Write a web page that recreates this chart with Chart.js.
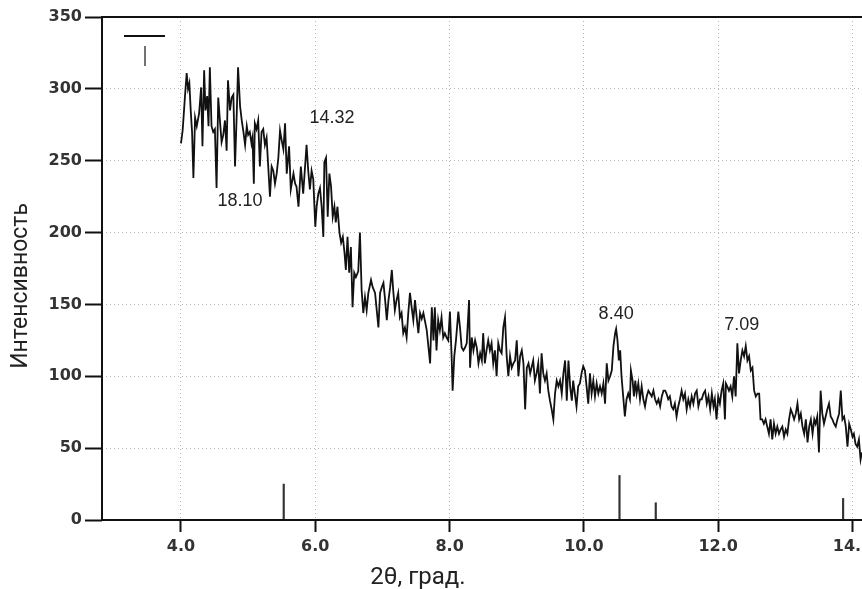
<!DOCTYPE html>
<html lang="ru">
  <head>
    <meta charset="UTF-8" />
    <script src="https://cdn.jsdelivr.net/npm/chart.js@4.4.0/dist/chart.umd.min.js"></script>
    <title>XRD</title>
    <style>
      html, body { margin: 0; padding: 0; background: #fff; overflow: hidden; }
      .wrap { position: relative; width: 900px; height: 589px; }
    </style>
  </head>
  <body>
    <div class="wrap"><canvas id="xrd"></canvas></div>
    <script>
      // scan, 2theta (deg) and intensity
      const twoTheta = [
        4.00, 4.025, 4.06, 4.085, 4.105, 4.125, 4.145, 4.165, 4.185, 4.21, 4.235, 4.27, 4.30, 4.32, 4.345, 4.365, 4.39, 4.41, 4.43, 4.455,
        4.48, 4.505, 4.53, 4.555, 4.58, 4.605, 4.63, 4.655, 4.68, 4.70, 4.73, 4.755, 4.78, 4.805, 4.83, 4.85, 4.88, 4.905, 4.93, 4.955,
        4.98, 5.00, 5.025, 5.05, 5.065, 5.085, 5.10, 5.125, 5.15, 5.175, 5.20, 5.225, 5.25, 5.275,
        5.325, 5.35, 5.375, 5.40, 5.425, 5.45, 5.475, 5.50, 5.525, 5.55, 5.575, 5.61, 5.635, 5.675, 5.70, 5.72,
        5.75, 5.785, 5.82, 5.87, 5.895, 5.92, 5.945, 5.97, 6.00, 6.02, 6.045, 6.07, 6.095, 6.12, 6.135, 6.16, 6.185, 6.21, 6.235, 6.26,
        6.285, 6.305, 6.33, 6.36, 6.385, 6.41, 6.435, 6.455, 6.48, 6.505, 6.53, 6.555, 6.58, 6.605, 6.64, 6.665, 6.69, 6.715, 6.74, 6.765,
        6.79, 6.83, 6.855, 6.89, 6.915, 6.94, 6.965, 6.99, 7.015, 7.04, 7.065, 7.09, 7.115, 7.14, 7.16, 7.185, 7.21, 7.235, 7.26, 7.285,
        7.31, 7.335, 7.36, 7.385, 7.41, 7.435, 7.46, 7.485, 7.51, 7.535,
        7.56, 7.585, 7.61, 7.66, 7.71, 7.735, 7.76, 7.78, 7.805, 7.83, 7.855, 7.88, 7.905, 7.93, 7.955, 7.98, 8.005, 8.03, 8.045, 8.07,
        8.095, 8.13, 8.155, 8.18, 8.205, 8.23, 8.255, 8.29, 8.305, 8.33, 8.355, 8.38, 8.405, 8.43, 8.455, 8.48, 8.50, 8.525, 8.55, 8.575,
        8.60, 8.625, 8.65, 8.675, 8.70, 8.725, 8.75, 8.775, 8.80, 8.825, 8.85, 8.875, 8.90, 8.925, 8.95, 8.975, 9.00, 9.025, 9.05, 9.075, 9.10,
        9.125, 9.15, 9.175, 9.20, 9.22, 9.245, 9.27, 9.295, 9.32, 9.345, 9.37, 9.395, 9.42, 9.445, 9.47, 9.495, 9.52, 9.545, 9.57, 9.595,
        9.62, 9.645, 9.67, 9.695, 9.72, 9.745, 9.77, 9.795, 9.82, 9.84, 9.865, 9.89, 9.915, 9.94,
        9.965, 9.99, 10.015, 10.04, 10.065, 10.09, 10.115, 10.14, 10.165, 10.19, 10.215, 10.24, 10.265, 10.29, 10.315, 10.34, 10.365, 10.39, 10.415, 10.44,
        10.465, 10.48, 10.50, 10.52, 10.54, 10.56, 10.585, 10.61, 10.635, 10.66, 10.685, 10.70, 10.725, 10.745, 10.765, 10.785, 10.81, 10.835, 10.86, 10.885,
        10.91, 10.935, 10.96, 10.985, 11.01, 11.035, 11.06, 11.085, 11.11, 11.135, 11.16, 11.185, 11.21, 11.23, 11.255, 11.28, 11.305, 11.33, 11.355, 11.38,
        11.405, 11.43, 11.455, 11.48, 11.505, 11.53, 11.555, 11.58, 11.605, 11.63, 11.655, 11.68, 11.705, 11.73,
        11.755, 11.78, 11.805, 11.83, 11.855, 11.88, 11.905, 11.93, 11.95, 11.975, 12.00, 12.025, 12.05, 12.075, 12.10, 12.115, 12.135, 12.16, 12.185, 12.21,
        12.235, 12.26, 12.285, 12.31, 12.335, 12.36, 12.385, 12.41, 12.435, 12.46, 12.485, 12.51, 12.535, 12.56, 12.585, 12.61, 12.63, 12.655, 12.68, 12.705,
        12.73, 12.755, 12.78, 12.805, 12.83, 12.855, 12.88, 12.905, 12.93, 12.955, 12.98, 13.005, 13.03, 13.055, 13.08, 13.105, 13.13, 13.155, 13.18, 13.205,
        13.23, 13.255, 13.28, 13.305, 13.33, 13.355, 13.38, 13.405, 13.43, 13.45, 13.475, 13.50, 13.525, 13.55, 13.575, 13.60, 13.625, 13.65, 13.675, 13.70,
        13.725, 13.75, 13.775, 13.80, 13.825, 13.85, 13.875, 13.90, 13.925, 13.95, 13.975, 14.00, 14.02, 14.045, 14.07, 14.095, 14.12, 14.14
      ];
      const intensity = [
        262, 271, 295, 311, 300, 304, 285, 270, 238, 280, 274, 283, 301, 260, 313, 285, 295, 274, 315, 274,
        270, 272, 231, 294, 278, 263, 268, 278, 257, 306, 285, 294, 296, 246, 282, 315, 288, 278, 270, 261,
        274, 268, 270, 262, 266, 234, 276, 272, 278, 246, 270, 272, 261, 266,
        225, 246, 243, 234, 241, 252, 271, 264, 258, 276, 241, 260, 230, 241, 234, 232,
        218, 246, 227, 261, 243, 230, 243, 237, 204, 218, 227, 231, 218, 197, 249, 252, 211, 241, 232, 211,
        218, 207, 218, 200, 193, 197, 186, 174, 197, 172, 190, 148, 172, 169, 173, 200, 160, 144, 155, 146,
        158, 167, 162, 158, 146, 134, 158, 162, 165, 153, 139, 153, 162, 174, 160, 146, 153, 158, 141, 144,
        130, 134, 127, 144, 158, 148, 139, 153, 141, 130,
        144, 140, 144, 132, 109, 148, 125, 148, 118, 139, 132, 141, 127, 130, 127, 125, 145, 114, 90, 114,
        125, 145, 134, 120, 118, 120, 123, 153, 106, 127, 118, 125, 120, 109, 116, 111, 130, 109, 118, 125,
        118, 123, 109, 118, 100, 123, 118, 116, 134, 141, 114, 100, 114, 106, 109, 111, 125, 100, 114, 118, 109,
        77, 106, 109, 102, 106, 111, 97, 102, 109, 88, 116, 102, 97, 102, 90, 83, 77, 70, 88, 97,
        93, 97, 88, 102, 111, 83, 111, 93, 83, 97, 88, 79, 93, 95,
        102, 107, 104, 93, 81, 102, 88, 97, 86, 95, 88, 93, 88, 95, 81, 109, 97, 100, 104, 121,
        130, 133, 125, 111, 118, 100, 86, 72, 84, 88, 84, 104, 97, 86, 97, 88, 95, 84, 93, 84,
        79, 86, 90, 88, 86, 90, 84, 81, 84, 79, 86, 90, 90, 88, 84, 86, 79, 77, 81, 72,
        79, 84, 90, 84, 88, 77, 84, 79, 86, 81, 88, 90, 79, 84,
        84, 88, 90, 81, 86, 77, 88, 79, 84, 70, 86, 81, 90, 95, 70, 95, 93, 90, 93, 86,
        100, 86, 123, 102, 111, 118, 114, 121, 111, 114, 104, 106, 90, 86, 88, 88, 70, 70, 67, 70,
        65, 60, 70, 56, 67, 60, 65, 60, 63, 65, 58, 63, 60, 70, 77, 74, 70, 74, 81, 70,
        74, 65, 60, 70, 54, 65, 70, 60, 70, 67, 72, 47, 90, 74, 67, 72, 77, 81, 72, 70,
        67, 65, 70, 74, 90, 70, 72, 65, 51, 67, 63, 58, 60, 53, 51, 56, 42, 47
      ];

      // reference phase lines
      const stickX = [5.53, 10.53, 11.07, 13.86];
      const stickY = [25, 31, 12, 15];

      // d-spacing labels over the peaks
      const peakLabels = ["18.10", "14.32", "8.40", "7.09"];
      const peakLabelX = [4.88, 6.25, 10.48, 12.35];
      const peakLabelY = [222, 280, 143, 136];

      const xTicks = [4, 6, 8, 10, 12, 14];
      const yTicks = [0, 50, 100, 150, 200, 250, 300, 350];

      const xTitle = "2θ, град.";
      const yTitle = "Интенсивность";

      if (twoTheta.length !== intensity.length) console.error("length mismatch", twoTheta.length, intensity.length);

      const scan = twoTheta.map((t, i) => ({ x: t, y: intensity[i] }));
      const sticks = stickX.map((t, i) => ({ x: t, y: stickY[i] }));

      const tickFont = { family: "'DejaVu Sans', sans-serif", size: 16, weight: "bold" };
      const gridOpts = {
        color: "#b4b4b4",
        lineWidth: 1,
        offset: false,
        drawTicks: true,
        tickColor: "#111",
        tickWidth: 2,
        tickBorderDash: [],
      };

      // frame lines (solid) + legend keys, peak labels, axis titles
      const decor = {
        id: "decor",
        afterDatasetsDraw(chart) {
          const { ctx, chartArea, scales } = chart;
          const x = scales.x, y = scales.y;
          ctx.save();
          ctx.strokeStyle = "#111";
          ctx.lineWidth = 2;
          ctx.beginPath();
          ctx.moveTo(chartArea.right, chartArea.top);
          ctx.lineTo(chartArea.left, chartArea.top);
          ctx.lineTo(chartArea.left, chartArea.bottom);
          ctx.lineTo(chartArea.right, chartArea.bottom);
          ctx.stroke();
          // legend keys, no text
          ctx.beginPath();
          ctx.moveTo(chartArea.left + 22, chartArea.top + 19);
          ctx.lineTo(chartArea.left + 63, chartArea.top + 19);
          ctx.stroke();
          ctx.strokeStyle = "#444";
          ctx.lineWidth = 1.5;
          ctx.beginPath();
          ctx.moveTo(chartArea.left + 43, chartArea.top + 29);
          ctx.lineTo(chartArea.left + 43, chartArea.top + 49);
          ctx.stroke();
          // peak labels
          ctx.fillStyle = "#222";
          ctx.font = "18px 'Liberation Sans', Arial, sans-serif";
          ctx.textAlign = "center";
          ctx.textBaseline = "middle";
          peakLabels.forEach((txt, i) => {
            ctx.fillText(txt, x.getPixelForValue(peakLabelX[i]), y.getPixelForValue(peakLabelY[i]));
          });
          // axis titles
          ctx.font = "24px Roboto, 'Noto Sans', sans-serif";
          ctx.fillText(xTitle, 418, chartArea.bottom + 58);
          ctx.translate(21, 286);
          ctx.rotate(-Math.PI / 2);
          ctx.font = "23px Roboto, 'Noto Sans', sans-serif";
          ctx.fillText(yTitle, 0, 0);
          ctx.restore();
        },
      };

      new Chart(document.getElementById("xrd"), {
        type: "line",
        data: {
          datasets: [
            {
              label: "scan",
              data: scan,
              borderColor: "#111",
              borderWidth: 1.8,
              pointRadius: 0,
              tension: 0,
              fill: false,
            },
            {
              type: "bar",
              label: "phase",
              data: sticks,
              backgroundColor: "#333",
              barThickness: 1.5,
              grouped: false,
            },
          ],
        },
        options: {
          responsive: true,
          maintainAspectRatio: false,
          animation: false,
          layout: { padding: { top: 17, right: 0, bottom: 0, left: 0 } },
          plugins: { legend: { display: false }, tooltip: { enabled: false } },
          scales: {
            x: {
              type: "linear",
              min: 2.824,
              max: 14.707,
              offset: false,
              afterBuildTicks: (s) => { s.ticks = xTicks.map((v) => ({ value: v })); },
              afterFit: (s) => { s.height = 69; },
              border: { display: false, dash: [1, 3] },
              grid: Object.assign({}, gridOpts, { tickLength: 12 }),
              ticks: {
                color: "#333",
                font: tickFont,
                padding: 5,
                maxRotation: 0,
                callback: (v) => v.toFixed(1),
              },
            },
            y: {
              type: "linear",
              min: 0,
              max: 350,
              afterBuildTicks: (s) => { s.ticks = yTicks.map((v) => ({ value: v })); },
              afterFit: (s) => { s.width = 102; },
              border: { display: false, dash: [1, 3] },
              grid: Object.assign({}, gridOpts, { tickLength: 17 }),
              ticks: {
                color: "#333",
                font: tickFont,
                padding: 3,
              },
            },
          },
        },
        plugins: [decor],
      });
    </script>
  </body>
</html>
